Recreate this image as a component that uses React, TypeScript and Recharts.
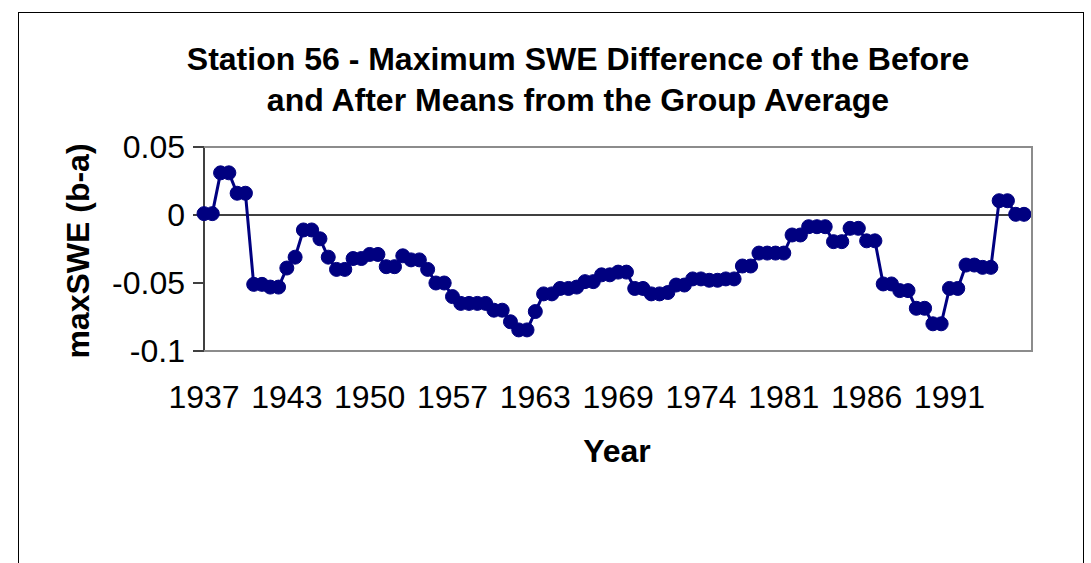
import { LineChart, Line, XAxis, YAxis, ReferenceLine } from "recharts";

// category labels shown on the x axis (every 10th point)
const YEAR_LABELS = ["1937", "1943", "1950", "1957", "1963", "1969", "1974", "1981", "1986", "1991"];

// maxSWE (b-a)
const SWE_VALUES = [
  0.001, 0.001, 0.031, 0.031, 0.016, 0.016, -0.051, -0.051, -0.053, -0.053,
  -0.039, -0.031, -0.011, -0.011, -0.0175, -0.031, -0.04, -0.04, -0.032, -0.032,
  -0.029, -0.029, -0.038, -0.038, -0.03, -0.033, -0.033, -0.04, -0.05, -0.05,
  -0.06, -0.065, -0.065, -0.065, -0.065, -0.07, -0.07, -0.0785, -0.0845, -0.0845,
  -0.071, -0.058, -0.058, -0.054, -0.054, -0.053, -0.049, -0.049, -0.044, -0.044,
  -0.042, -0.042, -0.054, -0.054, -0.058, -0.058, -0.057, -0.0515, -0.0515, -0.047,
  -0.047, -0.048, -0.048, -0.047, -0.047, -0.0375, -0.0375, -0.028, -0.028, -0.028,
  -0.028, -0.0147, -0.0147, -0.0086, -0.0086, -0.0086, -0.0196, -0.0196, -0.0098, -0.0098,
  -0.019, -0.019, -0.0507, -0.0507, -0.0556, -0.0556, -0.0686, -0.0686, -0.08, -0.08,
  -0.054, -0.054, -0.0368, -0.0368, -0.0385, -0.0385, 0.0105, 0.0105, 0.0005, 0.0005,
];

const Y_TICKS = [-0.1, -0.05, 0, 0.05];

const data = SWE_VALUES.map((v, i) => ({ idx: i, swe: v }));

const FONT = '"Liberation Sans", Arial, sans-serif';

const XTick = ({ x, y, payload }: any) => (
  <text x={x} y={y} dy={57} textAnchor="middle" fontSize={32} fontFamily={FONT} fill="#000">
    {YEAR_LABELS[payload.value / 10]}
  </text>
);

const YTick = ({ x, y, payload }: any) => (
  <text x={x} y={y} dy={11} textAnchor="end" fontSize={32} fontFamily={FONT} fill="#000">
    {String(payload.value)}
  </text>
);

const App = () => {
  return (
    <div style={{ position: "relative", width: 1091, height: 563, fontFamily: FONT }}>
      <style>{`body { margin: 0; overflow: hidden; background: #fff; }`}</style>

      {/* outer chart frame */}
      <div style={{ position: "absolute", left: 18, top: 12, width: 1066, height: 600, border: "1px solid #000", boxSizing: "border-box" }} />

      <div style={{ position: "absolute", left: 128, top: 39, width: 900, textAlign: "center", fontSize: 32, lineHeight: "41px", fontWeight: "bold" }}>
        Station 56 - Maximum SWE Difference of the Before
        <br />
        and After Means from the Group Average
      </div>

      <div style={{ position: "absolute", left: 0, top: 0 }}>
        <LineChart width={1091} height={563} data={data} margin={{ top: 147, right: 59, bottom: 152, left: 124 }}>
          <XAxis
            dataKey="idx"
            type="category"
            interval={9}
            tick={<XTick />}
            tickLine={false}
            axisLine={false}
            tickSize={0}
            tickMargin={0}
            height={60}
            padding={{ left: 0, right: 8 }}
          />
          <YAxis
            domain={[-0.1, 0.05]}
            ticks={Y_TICKS}
            width={80}
            tick={<YTick />}
            tickSize={11}
            tickMargin={8}
            axisLine={{ stroke: "#404040", strokeWidth: 2 }}
            tickLine={{ stroke: "#404040", strokeWidth: 2 }}
            allowDataOverflow
          />
          <ReferenceLine y={0} stroke="#000" strokeWidth={1.5} />
          <Line
            dataKey="swe"
            stroke="#000080"
            strokeWidth={3}
            dot={{ r: 7, fill: "#000080", stroke: "#000080", strokeWidth: 1 }}
            isAnimationActive={false}
          />
        </LineChart>
      </div>

      {/* plot area border (top, right, bottom) */}
      <div style={{ position: "absolute", left: 204, top: 146, width: 829, height: 206, borderTop: "2px solid #8c8c8c", borderRight: "2px solid #8c8c8c", borderBottom: "2px solid #8c8c8c", boxSizing: "border-box", pointerEvents: "none" }} />

      <div style={{ position: "absolute", left: 517, top: 431, width: 200, textAlign: "center", fontSize: 32, lineHeight: "41px", fontWeight: "bold" }}>
        Year
      </div>

      <div style={{ position: "absolute", left: -82, top: 231, width: 320, height: 40, lineHeight: "40px", textAlign: "center", fontSize: 32, fontWeight: "bold", transform: "rotate(-90deg)" }}>
        maxSWE (b-a)
      </div>
    </div>
  );
};

export default App;
